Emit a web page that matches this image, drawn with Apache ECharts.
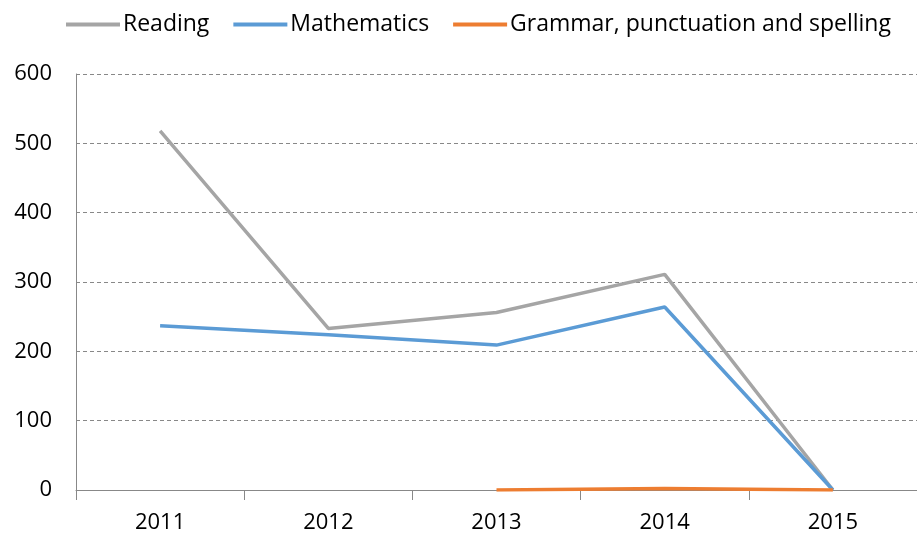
<!DOCTYPE html>
<html>
<head>
<meta charset="utf-8">
<script src="https://cdn.jsdelivr.net/npm/echarts@6/dist/echarts.min.js"></script>
<style>
  html, body { margin: 0; padding: 0; background: #fff; }
  #chart { width: 917px; height: 536px; }
</style>
</head>
<body>
<div id="chart"></div>
<script>
var years = ['2011', '2012', '2013', '2014', '2015']
var reading = [518, 233, 256, 311, 0]
var mathematics = [237, 224, 209, 264, 0]
var grammar = [null, null, 0, 2, 0]
var yTicks = [0, 100, 200, 300, 400, 500, 600]

var font = '"Liberation Sans Narrow", "Open Sans", sans-serif'
var colors = ['#A5A5A5', '#5B9BD5', '#ED7D31']

var myChart = echarts.init(document.getElementById('chart'))
var option = {
  animation: false,
  color: colors,
  textStyle: { fontFamily: font },
  legend: {
    left: 61,
    top: 8,
    itemWidth: 54,
    itemHeight: 4,
    itemGap: 24,
    icon: 'rect',
    textStyle: { fontSize: 23, color: '#000', fontFamily: font, padding: [0, 0, 0, -2] },
    data: ['Reading', 'Mathematics', 'Grammar, punctuation and spelling']
  },
  grid: {
    left: 76,
    right: -5,
    top: 74,
    bottom: 46
  },
  xAxis: {
    type: 'category',
    data: years,
    boundaryGap: true,
    axisLine: { lineStyle: { color: '#888', width: 1 } },
    axisTick: { show: true, length: 10, inside: false, lineStyle: { color: '#888' } },
    axisLabel: { fontSize: 22, color: '#000', margin: 22, fontFamily: font }
  },
  yAxis: {
    type: 'value',
    min: yTicks[0],
    max: yTicks[yTicks.length - 1],
    interval: 100,
    axisLine: { show: true, lineStyle: { color: '#888' } },
    axisTick: { show: false },
    axisLabel: { fontSize: 22, color: '#000', margin: 24, fontFamily: font },
    splitLine: { lineStyle: { color: '#888', type: [4, 3] } }
  },
  series: [
    {
      name: 'Reading',
      type: 'line',
      data: reading,
      symbol: 'none',
      lineStyle: { width: 3.5 }
    },
    {
      name: 'Mathematics',
      type: 'line',
      data: mathematics,
      symbol: 'none',
      lineStyle: { width: 3.5 }
    },
    {
      name: 'Grammar, punctuation and spelling',
      type: 'line',
      data: grammar,
      symbol: 'none',
      lineStyle: { width: 3.5 }
    }
  ]
}
myChart.setOption(option, true)
</script>
</body>
</html>
